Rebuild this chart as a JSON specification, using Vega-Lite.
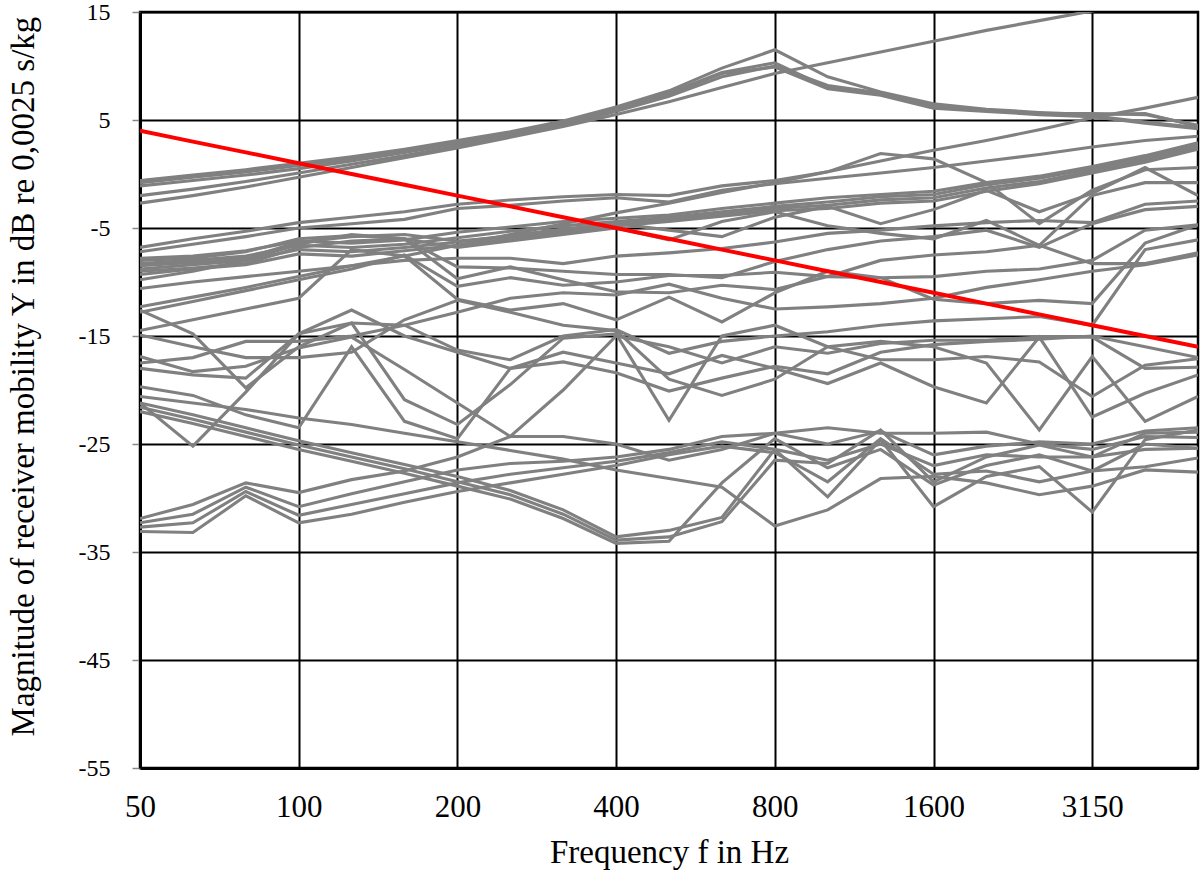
{
  "$schema": "https://vega.github.io/schema/vega-lite/v6.json",
  "width": 1058,
  "height": 756,
  "autosize": {"type": "none"},
  "padding": {"left": 140, "top": 12, "right": 2, "bottom": 106},
  "background": "white",
  "config": {
    "view": {"stroke": "black", "strokeWidth": 2.5},
    "axis": {
      "labelFont": "Liberation Serif",
      "titleFont": "Liberation Serif",
      "labelColor": "black",
      "titleColor": "black",
      "titleFontWeight": "normal",
      "gridColor": "black",
      "gridWidth": 2,
      "gridOpacity": 1,
      "domainColor": "black",
      "domainWidth": 3
    }
  },
  "datasets": {
    "measured": [
      {"s":"A1","f":50,"y":-0.6},{"s":"A1","f":63,"y":-0.1},{"s":"A1","f":80,"y":0.4},{"s":"A1","f":100,"y":1.0},{"s":"A1","f":125,"y":1.6},{"s":"A1","f":160,"y":2.3},{"s":"A1","f":200,"y":3.1},{"s":"A1","f":250,"y":3.9},{"s":"A1","f":315,"y":4.9},{"s":"A1","f":400,"y":6.2},{"s":"A1","f":500,"y":7.7},{"s":"A1","f":630,"y":9.8},{"s":"A1","f":800,"y":11.5},{"s":"A1","f":1000,"y":9.0},{"s":"A1","f":1250,"y":7.6},{"s":"A1","f":1600,"y":6.5},{"s":"A1","f":2000,"y":6.0},{"s":"A1","f":2500,"y":5.7},{"s":"A1","f":3150,"y":5.5},{"s":"A1","f":4000,"y":5.6},{"s":"A1","f":5000,"y":4.4},
      {"s":"A2","f":50,"y":-0.8},{"s":"A2","f":63,"y":-0.3},{"s":"A2","f":80,"y":0.2},{"s":"A2","f":100,"y":0.8},{"s":"A2","f":125,"y":1.4},{"s":"A2","f":160,"y":2.1},{"s":"A2","f":200,"y":2.9},{"s":"A2","f":250,"y":3.7},{"s":"A2","f":315,"y":4.7},{"s":"A2","f":400,"y":6.0},{"s":"A2","f":500,"y":7.5},{"s":"A2","f":630,"y":9.4},{"s":"A2","f":800,"y":10.3},{"s":"A2","f":1000,"y":8.0},{"s":"A2","f":1250,"y":7.4},{"s":"A2","f":1600,"y":6.3},{"s":"A2","f":2000,"y":5.9},{"s":"A2","f":2500,"y":5.6},{"s":"A2","f":3150,"y":5.4},{"s":"A2","f":4000,"y":4.8},{"s":"A2","f":5000,"y":4.3},
      {"s":"A3","f":50,"y":-1.1},{"s":"A3","f":63,"y":-0.6},{"s":"A3","f":80,"y":-0.1},{"s":"A3","f":100,"y":0.5},{"s":"A3","f":125,"y":1.2},{"s":"A3","f":160,"y":2.0},{"s":"A3","f":200,"y":2.8},{"s":"A3","f":250,"y":3.6},{"s":"A3","f":315,"y":4.6},{"s":"A3","f":400,"y":5.9},{"s":"A3","f":500,"y":7.4},{"s":"A3","f":630,"y":9.3},{"s":"A3","f":800,"y":9.9},{"s":"A3","f":1000,"y":7.9},{"s":"A3","f":1250,"y":7.3},{"s":"A3","f":1600,"y":6.1},{"s":"A3","f":2000,"y":5.8},{"s":"A3","f":2500,"y":5.5},{"s":"A3","f":3150,"y":5.3},{"s":"A3","f":4000,"y":4.7},{"s":"A3","f":5000,"y":4.2},
      {"s":"A4","f":50,"y":-2.0},{"s":"A4","f":63,"y":-1.4},{"s":"A4","f":80,"y":-0.7},{"s":"A4","f":100,"y":0.1},{"s":"A4","f":125,"y":0.9},{"s":"A4","f":160,"y":1.7},{"s":"A4","f":200,"y":2.6},{"s":"A4","f":250,"y":3.5},{"s":"A4","f":315,"y":4.5},{"s":"A4","f":400,"y":5.8},{"s":"A4","f":500,"y":7.2},{"s":"A4","f":630,"y":9.0},{"s":"A4","f":800,"y":10.0},{"s":"A4","f":1000,"y":8.2},{"s":"A4","f":1250,"y":7.5},{"s":"A4","f":1600,"y":6.4},{"s":"A4","f":2000,"y":5.9},{"s":"A4","f":2500,"y":5.6},{"s":"A4","f":3150,"y":5.6},{"s":"A4","f":4000,"y":5.5},{"s":"A4","f":5000,"y":4.5},
      {"s":"A5","f":50,"y":-2.7},{"s":"A5","f":63,"y":-2.0},{"s":"A5","f":80,"y":-1.2},{"s":"A5","f":100,"y":-0.3},{"s":"A5","f":125,"y":0.6},{"s":"A5","f":160,"y":1.5},{"s":"A5","f":200,"y":2.4},{"s":"A5","f":250,"y":3.4},{"s":"A5","f":315,"y":4.4},{"s":"A5","f":400,"y":5.5},{"s":"A5","f":500,"y":6.7},{"s":"A5","f":630,"y":8.0},{"s":"A5","f":800,"y":9.3},{"s":"A5","f":1000,"y":10.3},{"s":"A5","f":1250,"y":11.3},{"s":"A5","f":1600,"y":12.3},{"s":"A5","f":2000,"y":13.3},{"s":"A5","f":2500,"y":14.2},{"s":"A5","f":3150,"y":15.1},{"s":"A5","f":4000,"y":16.0},{"s":"A5","f":5000,"y":17.0},
      {"s":"S2","f":50,"y":-12.3},{"s":"S2","f":63,"y":-11.4},{"s":"S2","f":80,"y":-10.5},{"s":"S2","f":100,"y":-9.5},{"s":"S2","f":125,"y":-8.5},{"s":"S2","f":160,"y":-7.6},{"s":"S2","f":200,"y":-6.6},{"s":"S2","f":250,"y":-5.6},{"s":"S2","f":315,"y":-4.6},{"s":"S2","f":400,"y":-3.6},{"s":"S2","f":500,"y":-2.7},{"s":"S2","f":630,"y":-1.7},{"s":"S2","f":800,"y":-0.8},{"s":"S2","f":1000,"y":0.2},{"s":"S2","f":1250,"y":1.2},{"s":"S2","f":1600,"y":2.2},{"s":"S2","f":2000,"y":3.1},{"s":"S2","f":2500,"y":4.1},{"s":"S2","f":3150,"y":5.2},{"s":"S2","f":4000,"y":6.1},{"s":"S2","f":5000,"y":7.1},
      {"s":"B1","f":50,"y":-6.8},{"s":"B1","f":63,"y":-6.0},{"s":"B1","f":80,"y":-5.3},{"s":"B1","f":100,"y":-4.5},{"s":"B1","f":125,"y":-4.0},{"s":"B1","f":160,"y":-3.5},{"s":"B1","f":200,"y":-2.8},{"s":"B1","f":250,"y":-2.4},{"s":"B1","f":315,"y":-2.1},{"s":"B1","f":400,"y":-1.9},{"s":"B1","f":500,"y":-2.0},{"s":"B1","f":630,"y":-1.1},{"s":"B1","f":800,"y":-0.6},{"s":"B1","f":1000,"y":0.2},{"s":"B1","f":1250,"y":1.9},{"s":"B1","f":1600,"y":1.4},{"s":"B1","f":2000,"y":-0.8},{"s":"B1","f":2500,"y":-4.6},{"s":"B1","f":3150,"y":-1.5},{"s":"B1","f":4000,"y":0.4},{"s":"B1","f":5000,"y":0.6},
      {"s":"B2","f":50,"y":-7.2},{"s":"B2","f":63,"y":-6.5},{"s":"B2","f":80,"y":-5.8},{"s":"B2","f":100,"y":-5.0},{"s":"B2","f":125,"y":-4.6},{"s":"B2","f":160,"y":-4.2},{"s":"B2","f":200,"y":-3.2},{"s":"B2","f":250,"y":-2.9},{"s":"B2","f":315,"y":-2.5},{"s":"B2","f":400,"y":-2.2},{"s":"B2","f":500,"y":-2.6},{"s":"B2","f":630,"y":-1.5},{"s":"B2","f":800,"y":-0.9},{"s":"B2","f":1000,"y":-0.4},{"s":"B2","f":1250,"y":0.1},{"s":"B2","f":1600,"y":0.6},{"s":"B2","f":2000,"y":1.2},{"s":"B2","f":2500,"y":1.8},{"s":"B2","f":3150,"y":2.5},{"s":"B2","f":4000,"y":3.1},{"s":"B2","f":5000,"y":3.5},
      {"s":"B3","f":50,"y":-7.8},{"s":"B3","f":63,"y":-7.6},{"s":"B3","f":80,"y":-7.1},{"s":"B3","f":100,"y":-6.2},{"s":"B3","f":125,"y":-6.4},{"s":"B3","f":160,"y":-6.1},{"s":"B3","f":200,"y":-5.4},{"s":"B3","f":250,"y":-4.9},{"s":"B3","f":315,"y":-4.4},{"s":"B3","f":400,"y":-4.1},{"s":"B3","f":500,"y":-3.8},{"s":"B3","f":630,"y":-3.2},{"s":"B3","f":800,"y":-2.7},{"s":"B3","f":1000,"y":-2.2},{"s":"B3","f":1250,"y":-1.9},{"s":"B3","f":1600,"y":-1.6},{"s":"B3","f":2000,"y":-0.8},{"s":"B3","f":2500,"y":-0.2},{"s":"B3","f":3150,"y":0.7},{"s":"B3","f":4000,"y":1.7},{"s":"B3","f":5000,"y":2.9},
      {"s":"B4","f":50,"y":-8.3},{"s":"B4","f":63,"y":-8.0},{"s":"B4","f":80,"y":-7.6},{"s":"B4","f":100,"y":-6.6},{"s":"B4","f":125,"y":-6.8},{"s":"B4","f":160,"y":-6.5},{"s":"B4","f":200,"y":-5.9},{"s":"B4","f":250,"y":-5.3},{"s":"B4","f":315,"y":-4.8},{"s":"B4","f":400,"y":-4.4},{"s":"B4","f":500,"y":-4.0},{"s":"B4","f":630,"y":-3.5},{"s":"B4","f":800,"y":-3.0},{"s":"B4","f":1000,"y":-2.6},{"s":"B4","f":1250,"y":-2.1},{"s":"B4","f":1600,"y":-1.9},{"s":"B4","f":2000,"y":-1.0},{"s":"B4","f":2500,"y":-0.4},{"s":"B4","f":3150,"y":0.5},{"s":"B4","f":4000,"y":1.5},{"s":"B4","f":5000,"y":2.7},
      {"s":"B5","f":50,"y":-8.8},{"s":"B5","f":63,"y":-8.4},{"s":"B5","f":80,"y":-8.0},{"s":"B5","f":100,"y":-7.0},{"s":"B5","f":125,"y":-7.2},{"s":"B5","f":160,"y":-6.8},{"s":"B5","f":200,"y":-6.3},{"s":"B5","f":250,"y":-5.7},{"s":"B5","f":315,"y":-5.1},{"s":"B5","f":400,"y":-4.6},{"s":"B5","f":500,"y":-4.2},{"s":"B5","f":630,"y":-3.7},{"s":"B5","f":800,"y":-3.2},{"s":"B5","f":1000,"y":-2.9},{"s":"B5","f":1250,"y":-2.4},{"s":"B5","f":1600,"y":-2.2},{"s":"B5","f":2000,"y":-1.3},{"s":"B5","f":2500,"y":-0.7},{"s":"B5","f":3150,"y":0.3},{"s":"B5","f":4000,"y":1.3},{"s":"B5","f":5000,"y":2.5},
      {"s":"B6","f":50,"y":-9.3},{"s":"B6","f":63,"y":-8.8},{"s":"B6","f":80,"y":-8.4},{"s":"B6","f":100,"y":-7.4},{"s":"B6","f":125,"y":-7.6},{"s":"B6","f":160,"y":-7.1},{"s":"B6","f":200,"y":-6.6},{"s":"B6","f":250,"y":-6.0},{"s":"B6","f":315,"y":-5.4},{"s":"B6","f":400,"y":-4.8},{"s":"B6","f":500,"y":-4.4},{"s":"B6","f":630,"y":-3.9},{"s":"B6","f":800,"y":-3.4},{"s":"B6","f":1000,"y":-3.2},{"s":"B6","f":1250,"y":-2.7},{"s":"B6","f":1600,"y":-2.5},{"s":"B6","f":2000,"y":-1.6},{"s":"B6","f":2500,"y":-0.9},{"s":"B6","f":3150,"y":0.1},{"s":"B6","f":4000,"y":1.1},{"s":"B6","f":5000,"y":2.3},
      {"s":"B7","f":50,"y":-9.0},{"s":"B7","f":63,"y":-8.7},{"s":"B7","f":80,"y":-8.3},{"s":"B7","f":100,"y":-6.8},{"s":"B7","f":125,"y":-6.2},{"s":"B7","f":160,"y":-6.0},{"s":"B7","f":200,"y":-6.8},{"s":"B7","f":250,"y":-6.2},{"s":"B7","f":315,"y":-5.6},{"s":"B7","f":400,"y":-5.0},{"s":"B7","f":500,"y":-6.1},{"s":"B7","f":630,"y":-4.4},{"s":"B7","f":800,"y":-3.5},{"s":"B7","f":1000,"y":-4.8},{"s":"B7","f":1250,"y":-5.5},{"s":"B7","f":1600,"y":-6.0},{"s":"B7","f":2000,"y":-4.3},{"s":"B7","f":2500,"y":-6.6},{"s":"B7","f":3150,"y":-2.0},{"s":"B7","f":4000,"y":-0.8},{"s":"B7","f":5000,"y":-0.8},
      {"s":"B8","f":50,"y":-8.5},{"s":"B8","f":63,"y":-8.2},{"s":"B8","f":80,"y":-7.8},{"s":"B8","f":100,"y":-6.3},{"s":"B8","f":125,"y":-5.8},{"s":"B8","f":160,"y":-5.6},{"s":"B8","f":200,"y":-6.2},{"s":"B8","f":250,"y":-5.8},{"s":"B8","f":315,"y":-5.2},{"s":"B8","f":400,"y":-4.6},{"s":"B8","f":500,"y":-5.2},{"s":"B8","f":630,"y":-5.8},{"s":"B8","f":800,"y":-4.0},{"s":"B8","f":1000,"y":-3.0},{"s":"B8","f":1250,"y":-4.6},{"s":"B8","f":1600,"y":-3.3},{"s":"B8","f":2000,"y":-1.5},{"s":"B8","f":2500,"y":-3.5},{"s":"B8","f":3150,"y":-1.8},{"s":"B8","f":4000,"y":0.6},{"s":"B8","f":5000,"y":-2.0},
      {"s":"M1","f":50,"y":-10.6},{"s":"M1","f":63,"y":-10.0},{"s":"M1","f":80,"y":-9.5},{"s":"M1","f":100,"y":-9.0},{"s":"M1","f":125,"y":-8.5},{"s":"M1","f":160,"y":-8.0},{"s":"M1","f":200,"y":-7.8},{"s":"M1","f":250,"y":-7.8},{"s":"M1","f":315,"y":-8.3},{"s":"M1","f":400,"y":-7.6},{"s":"M1","f":500,"y":-7.3},{"s":"M1","f":630,"y":-6.9},{"s":"M1","f":800,"y":-6.3},{"s":"M1","f":1000,"y":-5.5},{"s":"M1","f":1250,"y":-5.2},{"s":"M1","f":1600,"y":-4.8},{"s":"M1","f":2000,"y":-4.5},{"s":"M1","f":2500,"y":-4.3},{"s":"M1","f":3150,"y":-4.5},{"s":"M1","f":4000,"y":-2.8},{"s":"M1","f":5000,"y":-2.5},
      {"s":"M2","f":50,"y":-9.8},{"s":"M2","f":63,"y":-9.0},{"s":"M2","f":80,"y":-8.0},{"s":"M2","f":100,"y":-6.5},{"s":"M2","f":125,"y":-5.6},{"s":"M2","f":160,"y":-6.0},{"s":"M2","f":200,"y":-8.6},{"s":"M2","f":250,"y":-8.7},{"s":"M2","f":315,"y":-9.0},{"s":"M2","f":400,"y":-9.3},{"s":"M2","f":500,"y":-9.3},{"s":"M2","f":630,"y":-9.6},{"s":"M2","f":800,"y":-8.1},{"s":"M2","f":1000,"y":-7.0},{"s":"M2","f":1250,"y":-6.2},{"s":"M2","f":1600,"y":-5.8},{"s":"M2","f":2000,"y":-5.2},{"s":"M2","f":2500,"y":-6.8},{"s":"M2","f":3150,"y":-4.6},{"s":"M2","f":4000,"y":-3.3},{"s":"M2","f":5000,"y":-3.0},
      {"s":"M3","f":50,"y":-8.0},{"s":"M3","f":63,"y":-7.8},{"s":"M3","f":80,"y":-7.2},{"s":"M3","f":100,"y":-6.0},{"s":"M3","f":125,"y":-5.7},{"s":"M3","f":160,"y":-6.0},{"s":"M3","f":200,"y":-9.7},{"s":"M3","f":250,"y":-8.6},{"s":"M3","f":315,"y":-9.8},{"s":"M3","f":400,"y":-10.9},{"s":"M3","f":500,"y":-11.0},{"s":"M3","f":630,"y":-10.3},{"s":"M3","f":800,"y":-10.7},{"s":"M3","f":1000,"y":-9.5},{"s":"M3","f":1250,"y":-8.0},{"s":"M3","f":1600,"y":-7.5},{"s":"M3","f":2000,"y":-7.2},{"s":"M3","f":2500,"y":-6.6},{"s":"M3","f":3150,"y":-8.3},{"s":"M3","f":4000,"y":-8.3},{"s":"M3","f":5000,"y":-7.3},
      {"s":"M4","f":50,"y":-12.8},{"s":"M4","f":63,"y":-11.8},{"s":"M4","f":80,"y":-10.8},{"s":"M4","f":100,"y":-9.8},{"s":"M4","f":125,"y":-8.8},{"s":"M4","f":160,"y":-7.5},{"s":"M4","f":200,"y":-10.4},{"s":"M4","f":250,"y":-9.6},{"s":"M4","f":315,"y":-10.3},{"s":"M4","f":400,"y":-10.0},{"s":"M4","f":500,"y":-9.4},{"s":"M4","f":630,"y":-9.4},{"s":"M4","f":800,"y":-9.1},{"s":"M4","f":1000,"y":-9.5},{"s":"M4","f":1250,"y":-9.6},{"s":"M4","f":1600,"y":-9.5},{"s":"M4","f":2000,"y":-9.0},{"s":"M4","f":2500,"y":-8.8},{"s":"M4","f":3150,"y":-8.0},{"s":"M4","f":4000,"y":-5.2},{"s":"M4","f":5000,"y":-4.7},
      {"s":"M5","f":50,"y":-14.5},{"s":"M5","f":63,"y":-13.5},{"s":"M5","f":80,"y":-12.5},{"s":"M5","f":100,"y":-11.5},{"s":"M5","f":125,"y":-7.0},{"s":"M5","f":160,"y":-7.6},{"s":"M5","f":200,"y":-11.6},{"s":"M5","f":250,"y":-12.6},{"s":"M5","f":315,"y":-12.0},{"s":"M5","f":400,"y":-13.5},{"s":"M5","f":500,"y":-11.4},{"s":"M5","f":630,"y":-13.7},{"s":"M5","f":800,"y":-11.0},{"s":"M5","f":1000,"y":-9.0},{"s":"M5","f":1250,"y":-9.6},{"s":"M5","f":1600,"y":-11.6},{"s":"M5","f":2000,"y":-12.0},{"s":"M5","f":2500,"y":-11.7},{"s":"M5","f":3150,"y":-12.0},{"s":"M5","f":4000,"y":-6.4},{"s":"M5","f":5000,"y":-4.7},
      {"s":"M6","f":50,"y":-12.6},{"s":"M6","f":63,"y":-14.8},{"s":"M6","f":80,"y":-19.8},{"s":"M6","f":100,"y":-16.0},{"s":"M6","f":125,"y":-13.8},{"s":"M6","f":160,"y":-14.0},{"s":"M6","f":200,"y":-16.3},{"s":"M6","f":250,"y":-17.2},{"s":"M6","f":315,"y":-15.0},{"s":"M6","f":400,"y":-14.4},{"s":"M6","f":500,"y":-16.6},{"s":"M6","f":630,"y":-15.5},{"s":"M6","f":800,"y":-15.0},{"s":"M6","f":1000,"y":-14.6},{"s":"M6","f":1250,"y":-14.0},{"s":"M6","f":1600,"y":-13.6},{"s":"M6","f":2000,"y":-13.4},{"s":"M6","f":2500,"y":-13.2},{"s":"M6","f":3150,"y":-14.0},{"s":"M6","f":4000,"y":-7.0},{"s":"M6","f":5000,"y":-6.1},
      {"s":"M7","f":50,"y":-21.2},{"s":"M7","f":63,"y":-25.2},{"s":"M7","f":80,"y":-20.2},{"s":"M7","f":100,"y":-14.8},{"s":"M7","f":125,"y":-12.6},{"s":"M7","f":160,"y":-15.0},{"s":"M7","f":200,"y":-16.5},{"s":"M7","f":250,"y":-18.0},{"s":"M7","f":315,"y":-17.4},{"s":"M7","f":400,"y":-18.4},{"s":"M7","f":500,"y":-20.1},{"s":"M7","f":630,"y":-18.9},{"s":"M7","f":800,"y":-17.8},{"s":"M7","f":1000,"y":-18.5},{"s":"M7","f":1250,"y":-16.5},{"s":"M7","f":1600,"y":-15.8},{"s":"M7","f":2000,"y":-15.5},{"s":"M7","f":2500,"y":-15.3},{"s":"M7","f":3150,"y":-15.0},{"s":"M7","f":4000,"y":-16.0},{"s":"M7","f":5000,"y":-17.0},
      {"s":"M8","f":50,"y":-16.9},{"s":"M8","f":63,"y":-18.3},{"s":"M8","f":80,"y":-17.8},{"s":"M8","f":100,"y":-16.1},{"s":"M8","f":125,"y":-15.1},{"s":"M8","f":160,"y":-18.1},{"s":"M8","f":200,"y":-21.2},{"s":"M8","f":250,"y":-24.3},{"s":"M8","f":315,"y":-20.0},{"s":"M8","f":400,"y":-15.0},{"s":"M8","f":500,"y":-16.0},{"s":"M8","f":630,"y":-17.5},{"s":"M8","f":800,"y":-16.0},{"s":"M8","f":1000,"y":-16.6},{"s":"M8","f":1250,"y":-15.7},{"s":"M8","f":1600,"y":-15.4},{"s":"M8","f":2000,"y":-15.4},{"s":"M8","f":2500,"y":-15.1},{"s":"M8","f":3150,"y":-15.1},{"s":"M8","f":4000,"y":-18.0},{"s":"M8","f":5000,"y":-17.9},
      {"s":"M9","f":50,"y":-18.0},{"s":"M9","f":63,"y":-18.6},{"s":"M9","f":80,"y":-18.9},{"s":"M9","f":100,"y":-14.8},{"s":"M9","f":125,"y":-13.8},{"s":"M9","f":160,"y":-20.9},{"s":"M9","f":200,"y":-23.2},{"s":"M9","f":250,"y":-19.5},{"s":"M9","f":315,"y":-15.2},{"s":"M9","f":400,"y":-14.8},{"s":"M9","f":500,"y":-22.8},{"s":"M9","f":630,"y":-15.0},{"s":"M9","f":800,"y":-14.0},{"s":"M9","f":1000,"y":-16.0},{"s":"M9","f":1250,"y":-17.2},{"s":"M9","f":1600,"y":-17.2},{"s":"M9","f":2000,"y":-16.9},{"s":"M9","f":2500,"y":-17.4},{"s":"M9","f":3150,"y":-20.6},{"s":"M9","f":4000,"y":-17.7},{"s":"M9","f":5000,"y":-17.1},
      {"s":"M10","f":50,"y":-19.7},{"s":"M10","f":63,"y":-20.5},{"s":"M10","f":80,"y":-22.3},{"s":"M10","f":100,"y":-23.5},{"s":"M10","f":125,"y":-16.0},{"s":"M10","f":160,"y":-22.9},{"s":"M10","f":200,"y":-24.5},{"s":"M10","f":250,"y":-18.0},{"s":"M10","f":315,"y":-16.5},{"s":"M10","f":400,"y":-17.5},{"s":"M10","f":500,"y":-18.5},{"s":"M10","f":630,"y":-16.8},{"s":"M10","f":800,"y":-18.0},{"s":"M10","f":1000,"y":-19.4},{"s":"M10","f":1250,"y":-17.5},{"s":"M10","f":1600,"y":-19.7},{"s":"M10","f":2000,"y":-21.2},{"s":"M10","f":2500,"y":-15.1},{"s":"M10","f":3150,"y":-22.5},{"s":"M10","f":4000,"y":-20.3},{"s":"M10","f":5000,"y":-18.6},
      {"s":"M11","f":50,"y":-14.9},{"s":"M11","f":63,"y":-16.0},{"s":"M11","f":80,"y":-17.0},{"s":"M11","f":100,"y":-17.0},{"s":"M11","f":125,"y":-16.5},{"s":"M11","f":160,"y":-13.5},{"s":"M11","f":200,"y":-11.7},{"s":"M11","f":250,"y":-12.8},{"s":"M11","f":315,"y":-14.0},{"s":"M11","f":400,"y":-14.5},{"s":"M11","f":500,"y":-19.0},{"s":"M11","f":630,"y":-20.5},{"s":"M11","f":800,"y":-19.0},{"s":"M11","f":1000,"y":-16.0},{"s":"M11","f":1250,"y":-15.5},{"s":"M11","f":1600,"y":-16.0},{"s":"M11","f":2000,"y":-17.5},{"s":"M11","f":2500,"y":-23.7},{"s":"M11","f":3150,"y":-16.9},{"s":"M11","f":4000,"y":-22.9},{"s":"M11","f":5000,"y":-20.6},
      {"s":"M12","f":50,"y":-17.5},{"s":"M12","f":63,"y":-17.0},{"s":"M12","f":80,"y":-15.5},{"s":"M12","f":100,"y":-15.5},{"s":"M12","f":125,"y":-15.0},{"s":"M12","f":160,"y":-14.0},{"s":"M12","f":200,"y":-12.8},{"s":"M12","f":250,"y":-11.5},{"s":"M12","f":315,"y":-11.0},{"s":"M12","f":400,"y":-11.2},{"s":"M12","f":500,"y":-10.2},{"s":"M12","f":630,"y":-11.5},{"s":"M12","f":800,"y":-12.5},{"s":"M12","f":1000,"y":-12.3},{"s":"M12","f":1250,"y":-12.0},{"s":"M12","f":1600,"y":-11.5},{"s":"M12","f":2000,"y":-10.5},{"s":"M12","f":2500,"y":-9.8},{"s":"M12","f":3150,"y":-9.0},{"s":"M12","f":4000,"y":-8.4},{"s":"M12","f":5000,"y":-7.5},
      {"s":"C1","f":50,"y":-21.2},{"s":"C1","f":63,"y":-22.3},{"s":"C1","f":80,"y":-23.5},{"s":"C1","f":100,"y":-24.7},{"s":"C1","f":125,"y":-25.8},{"s":"C1","f":160,"y":-26.9},{"s":"C1","f":200,"y":-28.0},{"s":"C1","f":250,"y":-29.3},{"s":"C1","f":315,"y":-31.1},{"s":"C1","f":400,"y":-33.6},{"s":"C1","f":500,"y":-33.0},{"s":"C1","f":630,"y":-31.8},{"s":"C1","f":800,"y":-25.5},{"s":"C1","f":1000,"y":-29.9},{"s":"C1","f":1250,"y":-24.6},{"s":"C1","f":1600,"y":-30.8},{"s":"C1","f":2000,"y":-28.0},{"s":"C1","f":2500,"y":-27.1},{"s":"C1","f":3150,"y":-31.3},{"s":"C1","f":4000,"y":-24.6},{"s":"C1","f":5000,"y":-23.7},
      {"s":"C2","f":50,"y":-21.6},{"s":"C2","f":63,"y":-22.7},{"s":"C2","f":80,"y":-23.9},{"s":"C2","f":100,"y":-25.1},{"s":"C2","f":125,"y":-26.2},{"s":"C2","f":160,"y":-27.3},{"s":"C2","f":200,"y":-28.5},{"s":"C2","f":250,"y":-29.7},{"s":"C2","f":315,"y":-31.5},{"s":"C2","f":400,"y":-33.9},{"s":"C2","f":500,"y":-33.6},{"s":"C2","f":630,"y":-32.2},{"s":"C2","f":800,"y":-26.5},{"s":"C2","f":1000,"y":-26.8},{"s":"C2","f":1250,"y":-23.7},{"s":"C2","f":1600,"y":-28.5},{"s":"C2","f":2000,"y":-26.2},{"s":"C2","f":2500,"y":-25.1},{"s":"C2","f":3150,"y":-26.2},{"s":"C2","f":4000,"y":-24.0},{"s":"C2","f":5000,"y":-23.9},
      {"s":"C3","f":50,"y":-22.0},{"s":"C3","f":63,"y":-23.1},{"s":"C3","f":80,"y":-24.3},{"s":"C3","f":100,"y":-25.5},{"s":"C3","f":125,"y":-26.6},{"s":"C3","f":160,"y":-27.7},{"s":"C3","f":200,"y":-28.9},{"s":"C3","f":250,"y":-30.1},{"s":"C3","f":315,"y":-31.9},{"s":"C3","f":400,"y":-34.2},{"s":"C3","f":500,"y":-34.0},{"s":"C3","f":630,"y":-28.6},{"s":"C3","f":800,"y":-24.5},{"s":"C3","f":1000,"y":-27.2},{"s":"C3","f":1250,"y":-25.5},{"s":"C3","f":1600,"y":-28.8},{"s":"C3","f":2000,"y":-27.0},{"s":"C3","f":2500,"y":-26.0},{"s":"C3","f":3150,"y":-27.5},{"s":"C3","f":4000,"y":-25.0},{"s":"C3","f":5000,"y":-25.4},
      {"s":"C4","f":50,"y":-20.6},{"s":"C4","f":63,"y":-21.2},{"s":"C4","f":80,"y":-21.8},{"s":"C4","f":100,"y":-22.6},{"s":"C4","f":125,"y":-23.2},{"s":"C4","f":160,"y":-24.0},{"s":"C4","f":200,"y":-24.8},{"s":"C4","f":250,"y":-25.6},{"s":"C4","f":315,"y":-26.4},{"s":"C4","f":400,"y":-27.4},{"s":"C4","f":500,"y":-28.2},{"s":"C4","f":630,"y":-29.0},{"s":"C4","f":800,"y":-32.6},{"s":"C4","f":1000,"y":-31.1},{"s":"C4","f":1250,"y":-28.2},{"s":"C4","f":1600,"y":-28.0},{"s":"C4","f":2000,"y":-28.6},{"s":"C4","f":2500,"y":-29.7},{"s":"C4","f":3150,"y":-28.9},{"s":"C4","f":4000,"y":-27.4},{"s":"C4","f":5000,"y":-27.6},
      {"s":"D1","f":50,"y":-31.9},{"s":"D1","f":63,"y":-30.6},{"s":"D1","f":80,"y":-28.6},{"s":"D1","f":100,"y":-29.5},{"s":"D1","f":125,"y":-28.3},{"s":"D1","f":160,"y":-27.5},{"s":"D1","f":200,"y":-26.2},{"s":"D1","f":250,"y":-24.3},{"s":"D1","f":315,"y":-24.3},{"s":"D1","f":400,"y":-25.0},{"s":"D1","f":500,"y":-26.5},{"s":"D1","f":630,"y":-25.5},{"s":"D1","f":800,"y":-24.0},{"s":"D1","f":1000,"y":-23.5},{"s":"D1","f":1250,"y":-24.0},{"s":"D1","f":1600,"y":-24.0},{"s":"D1","f":2000,"y":-23.9},{"s":"D1","f":2500,"y":-25.0},{"s":"D1","f":3150,"y":-25.5},{"s":"D1","f":4000,"y":-24.3},{"s":"D1","f":5000,"y":-24.4},
      {"s":"D2","f":50,"y":-32.3},{"s":"D2","f":63,"y":-31.5},{"s":"D2","f":80,"y":-29.0},{"s":"D2","f":100,"y":-30.8},{"s":"D2","f":125,"y":-29.6},{"s":"D2","f":160,"y":-28.5},{"s":"D2","f":200,"y":-27.4},{"s":"D2","f":250,"y":-26.8},{"s":"D2","f":315,"y":-26.6},{"s":"D2","f":400,"y":-26.2},{"s":"D2","f":500,"y":-25.5},{"s":"D2","f":630,"y":-24.3},{"s":"D2","f":800,"y":-24.0},{"s":"D2","f":1000,"y":-25.0},{"s":"D2","f":1250,"y":-23.8},{"s":"D2","f":1600,"y":-26.0},{"s":"D2","f":2000,"y":-25.2},{"s":"D2","f":2500,"y":-24.8},{"s":"D2","f":3150,"y":-25.0},{"s":"D2","f":4000,"y":-23.8},{"s":"D2","f":5000,"y":-23.5},
      {"s":"D3","f":50,"y":-32.7},{"s":"D3","f":63,"y":-32.3},{"s":"D3","f":80,"y":-29.4},{"s":"D3","f":100,"y":-31.6},{"s":"D3","f":125,"y":-30.6},{"s":"D3","f":160,"y":-29.6},{"s":"D3","f":200,"y":-28.6},{"s":"D3","f":250,"y":-27.8},{"s":"D3","f":315,"y":-27.2},{"s":"D3","f":400,"y":-26.6},{"s":"D3","f":500,"y":-25.8},{"s":"D3","f":630,"y":-24.8},{"s":"D3","f":800,"y":-25.5},{"s":"D3","f":1000,"y":-26.5},{"s":"D3","f":1250,"y":-25.0},{"s":"D3","f":1600,"y":-27.0},{"s":"D3","f":2000,"y":-26.0},{"s":"D3","f":2500,"y":-26.2},{"s":"D3","f":3150,"y":-26.2},{"s":"D3","f":4000,"y":-25.5},{"s":"D3","f":5000,"y":-25.4},
      {"s":"D4","f":50,"y":-33.1},{"s":"D4","f":63,"y":-33.2},{"s":"D4","f":80,"y":-29.8},{"s":"D4","f":100,"y":-32.3},{"s":"D4","f":125,"y":-31.5},{"s":"D4","f":160,"y":-30.4},{"s":"D4","f":200,"y":-29.4},{"s":"D4","f":250,"y":-28.6},{"s":"D4","f":315,"y":-27.8},{"s":"D4","f":400,"y":-27.0},{"s":"D4","f":500,"y":-26.0},{"s":"D4","f":630,"y":-25.2},{"s":"D4","f":800,"y":-25.8},{"s":"D4","f":1000,"y":-28.5},{"s":"D4","f":1250,"y":-24.5},{"s":"D4","f":1600,"y":-27.8},{"s":"D4","f":2000,"y":-27.5},{"s":"D4","f":2500,"y":-28.5},{"s":"D4","f":3150,"y":-27.5},{"s":"D4","f":4000,"y":-27.1},{"s":"D4","f":5000,"y":-26.3}
    ],
    "reference": [
      {"f":50,"y":4},{"f":63,"y":3},{"f":80,"y":2},{"f":100,"y":1},{"f":125,"y":0},{"f":160,"y":-1},{"f":200,"y":-2},{"f":250,"y":-3},{"f":315,"y":-4},{"f":400,"y":-5},{"f":500,"y":-6},{"f":630,"y":-7},{"f":800,"y":-8},{"f":1000,"y":-9},{"f":1250,"y":-10},{"f":1600,"y":-11},{"f":2000,"y":-12},{"f":2500,"y":-13},{"f":3150,"y":-14},{"f":4000,"y":-15},{"f":5000,"y":-16}
    ]
  },
  "encoding": {
    "x": {
      "field": "f",
      "type": "ordinal",
      "scale": {
        "type": "point",
        "padding": 0,
        "domain": [50,63,80,100,125,160,200,250,315,400,500,630,800,1000,1250,1600,2000,2500,3150,4000,5000]
      },
      "axis": {
        "values": [50,100,200,400,800,1600,3150],
        "labelAngle": 0,
        "grid": true,
        "ticks": false,
        "labelFontSize": 31,
        "labelPadding": 24,
        "title": "Frequency f in Hz",
        "titleFontSize": 33,
        "titlePadding": 14
      }
    },
    "y": {
      "field": "y",
      "type": "quantitative",
      "scale": {"domain": [-55, 15], "nice": false, "zero": false},
      "axis": {
        "values": [15,5,-5,-15,-25,-35,-45,-55],
        "labelExpr": "'' + datum.value",
        "grid": true,
        "ticks": true,
        "tickColor": "#888888",
        "tickSize": 8,
        "tickWidth": 1.5,
        "labelFontSize": 24,
        "labelPadding": 22,
        "title": "Magnitude of receiver mobility Y in dB re 0,0025 s/kg",
        "titleFontSize": 33,
        "titleY": 364,
        "titlePadding": 38
      }
    }
  },
  "layer": [
    {
      "data": {"name": "measured"},
      "mark": {"type": "line", "color": "#808080", "strokeWidth": 3.1, "clip": true},
      "encoding": {"detail": {"field": "s"}}
    },
    {
      "data": {"name": "reference"},
      "mark": {"type": "line", "color": "#ff0000", "strokeWidth": 4, "clip": true},
      "encoding": {}
    }
  ]
}
